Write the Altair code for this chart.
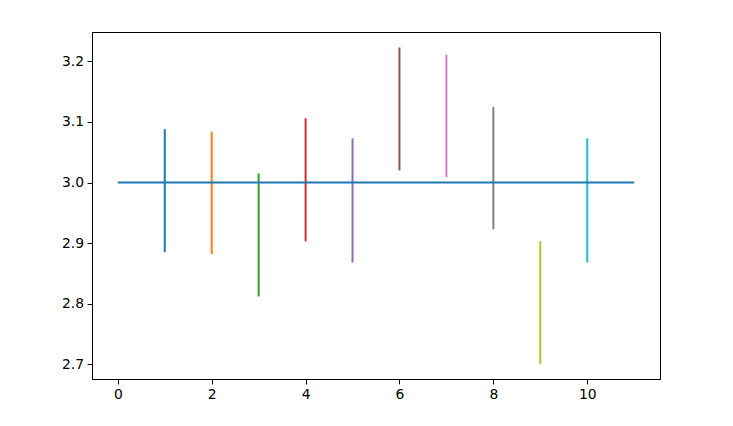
import altair as alt
import pandas as pd

xs = [1, 2, 3, 4, 5, 6, 7, 8, 9, 10]
ymin = [2.885, 2.882, 2.812, 2.903, 2.868, 3.020, 3.009, 2.923, 2.700, 2.868]
ymax = [3.088, 3.084, 3.015, 3.106, 3.073, 3.223, 3.211, 3.125, 2.903, 3.073]
colors = ["#1f77b4", "#ff7f0e", "#2ca02c", "#d62728", "#9467bd",
          "#8c564b", "#e377c2", "#7f7f7f", "#bcbd22", "#17becf"]
hline_x = [0, 11]
hline_y = 3.0

bars = pd.DataFrame({"x": xs, "ymin": ymin, "ymax": ymax,
                     "k": [str(i) for i in range(len(xs))]})
hl = pd.DataFrame({"x0": [hline_x[0]], "x1": [hline_x[1]], "y": [hline_y]})

xscale = alt.Scale(domain=[-0.55, 11.55], nice=False, zero=False)
yscale = alt.Scale(domain=[2.6757, 3.2485], nice=False, zero=False)

axis_common = dict(grid=False, domainColor="black", tickColor="black",
                   labelColor="black", labelFont="DejaVu Sans", labelFontSize=13.9,
                   tickSize=4.9, labelPadding=3.5, domainWidth=1, tickWidth=1)

xaxis = alt.Axis(values=[0, 2, 4, 6, 8, 10], format="d", title=None, **axis_common)
yaxis = alt.Axis(values=[2.7, 2.8, 2.9, 3.0, 3.1, 3.2], format=".1f", title=None, **axis_common)

vl = alt.Chart(bars).mark_rule(strokeWidth=2).encode(
    x=alt.X("x:Q", scale=xscale, axis=xaxis),
    y=alt.Y("ymin:Q", scale=yscale, axis=yaxis),
    y2="ymax:Q",
    color=alt.Color("k:N", scale=alt.Scale(domain=bars["k"].tolist(), range=colors), legend=None),
)

hr = alt.Chart(hl).mark_rule(strokeWidth=2, color="#1f77b4").encode(
    x=alt.X("x0:Q", scale=xscale),
    x2="x1:Q",
    y=alt.Y("y:Q", scale=yscale),
)

chart = alt.layer(vl, hr).properties(
    width=568, height=347,
    autosize=alt.AutoSizeParams(type="none"),
    padding={"left": 84, "top": 24, "right": 65, "bottom": 39},
).configure(
    background="white",
    view=alt.ViewConfig(stroke="black", strokeWidth=1, strokeOpacity=1),
)

chart.save("out.html", embed_options={"renderer": "svg", "actions": False})
